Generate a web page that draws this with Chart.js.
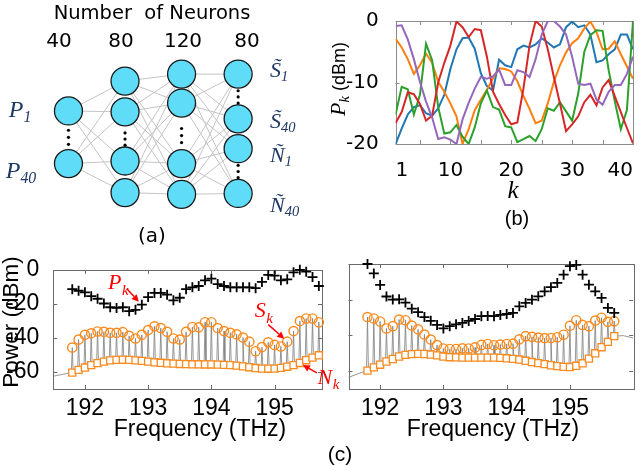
<!DOCTYPE html>
<html>
<head>
<meta charset="utf-8">
<script src="https://cdn.jsdelivr.net/npm/chart.js@4.4.0/dist/chart.umd.min.js"></script>
<style>
html, body { margin: 0; padding: 0; background: #fff; }
#page { position: relative; width: 640px; height: 466px; overflow: hidden; }
canvas { position: absolute; }
.lbl { position: absolute; white-space: nowrap; transform: translate(-50%, -50%); line-height: 1; color: #000; }
.left { transform: translate(0, -50%); }
.rot { transform: translate(-50%, -50%) rotate(-90deg); }
.sans { font-family: "DejaVu Sans", sans-serif; }
.ars { font-family: "Liberation Sans", Arial, sans-serif; }
.m { font-family: "Liberation Serif", serif; font-style: italic; }
.navy { color: #1f3864; }
sub { font-size: 66%; vertical-align: -0.3em; line-height: 0; }
</style>
</head>
<body>
<div id="page">
  <canvas id="net" width="310" height="250" style="left:0;top:0"></canvas>
  <canvas id="pk" width="330" height="240" style="left:310px;top:0"></canvas>
  <canvas id="specL" width="340" height="216" style="left:0;top:250px"></canvas>
  <canvas id="specR" width="300" height="216" style="left:340px;top:250px"></canvas>

  <!-- (a) -->
  <div class="lbl sans" style="left:152px;top:13px;font-size:19.5px">Number&nbsp; of Neurons</div>
  <div class="lbl sans" id="cnt0" style="left:59px;top:40px;font-size:20px"></div>
  <div class="lbl sans" id="cnt1" style="left:121px;top:40px;font-size:20px"></div>
  <div class="lbl sans" id="cnt2" style="left:183px;top:40px;font-size:20px"></div>
  <div class="lbl sans" id="cnt3" style="left:247px;top:40px;font-size:20px"></div>
  <div class="lbl m navy" style="left:20px;top:109px;font-size:24px">P<sub>1</sub></div>
  <div class="lbl m navy" style="left:21px;top:170px;font-size:24px">P<sub>40</sub></div>
  <div class="lbl left m navy" style="left:270px;top:70px;font-size:22px">S&#771;<sub>1</sub></div>
  <div class="lbl left m navy" style="left:270px;top:121px;font-size:22px">S&#771;<sub>40</sub></div>
  <div class="lbl left m navy" style="left:270px;top:155px;font-size:22px">Ñ<sub>1</sub></div>
  <div class="lbl left m navy" style="left:270px;top:205px;font-size:22px">Ñ<sub>40</sub></div>
  <div class="lbl sans" style="left:152px;top:235px;font-size:20px">(a)</div>

  <!-- (b) -->
  <div class="lbl rot ars" style="left:338px;top:79px;font-size:18px"><span class="m" style="font-size:22px">P<sub>k</sub></span>&nbsp;(dBm)</div>
  <div class="lbl m" style="left:513px;top:189px;font-size:25px">k</div>
  <div class="lbl ars" style="left:517px;top:218px;font-size:20px">(b)</div>

  <!-- (c) -->
  <div class="lbl rot ars" style="left:11px;top:322px;font-size:22.5px">Power (dBm)</div>
  <div class="lbl ars" style="left:200px;top:428px;font-size:23px">Frequency (THz)</div>
  <div class="lbl ars" style="left:493px;top:428px;font-size:23px">Frequency (THz)</div>
  <div class="lbl ars" style="left:340px;top:453px;font-size:21px">(c)</div>
</div>

<script>
// ---- (a) network layout ----
const neuronCounts = ['40', '80', '120', '80'];
const nodeRows = [[10.9, 16.9], [7.5, 11.0, 16.6, 20.2], [6.7, 10.0, 16.9, 20.4], [6.7, 11.8, 15.2, 20.3]];
const ellipsisRows = [[13.1, 13.9, 14.7], [13.4, 14.1, 14.8], [12.9, 13.7, 14.5], [8.6, 9.3, 10.0, 17.1, 17.8, 18.5]];

// ---- (b) P_k for five random launches ----
const kIndex = [1,2,3,4,5,6,7,8,9,10,11,12,13,14,15,16,17,18,19,20,21,22,23,24,25,26,27,28,29,30,31,32,33,34,35,36,37,38,39,40];
const kTicks = [1, 10, 20, 30, 40];
const kMarks = [5, 10, 15, 20, 25, 30, 35];
const pkTicks = [-20, -10, 0];
const launchBlue = [-20, -17.5, -15.2, -14, -13.7, -15, -15.4, -14.2, -12, -7.8, -4.6, -2.8, -2.7, -4.5, -8.5, -10.6, -11.3, -6.3, -7.2, -7.5, -4.6, -4, -4.3, -3.8, -2.8, -3.5, -4.3, -3.8, -1, -0.1, -1, -0.7, -2.2, -6.7, -6.4, -5.4, -4.6, -2.2, -2.2, -4.6];
const launchOrange = [-2.9, -4.3, -6.2, -8.6, -7.2, -5.3, -6.8, -9.9, -11.5, -13.4, -15.5, -20, -17.6, -14.5, -12.8, -11.2, -9.3, -7.7, -7.8, -8.2, -9.8, -12.2, -14.3, -16.6, -16.2, -13.4, -9.9, -7.2, -5.1, -3.6, -2.8, -1.2, -0.1, -1.8, -4.6, -4.5, -3.3, -5.4, -7.4, -9.4];
const launchGreen = [-15.2, -10.7, -11.1, -15.2, -12, -3.7, -6.4, -14, -18.3, -18.1, -16.9, -18.8, -20, -17.3, -13.4, -11.3, -14, -14.4, -17.1, -17.3, -19.7, -19.2, -18.7, -19.5, -17.6, -14.2, -14.6, -13.2, -14.7, -16.2, -11.8, -5, -2.3, -1.5, -1.6, -8, -13, -17.6, -14.5, 0];
const launchRed = [-16.6, -14.8, -11.6, -11.9, -13.5, -16.2, -15.4, -10, -6.8, -4, -0.1, -1, -2.6, -1.3, -1.5, -5.8, -11.5, -13.5, -15.3, -16.8, -16.5, -11, -4, 0, -0.9, -4.6, -9.1, -13.4, -17.9, -16.8, -15.5, -13.2, -12, -13.7, -10.8, -9.6, -12.2, -14.8, -17.4, -19.9];
const launchPurple = [-0.8, -0.7, -3, -6.2, -9.9, -13.1, -15.7, -19.2, -18.9, -19.3, -20, -16, -13.3, -11, -9.1, -9.4, -9, -7.9, -10.4, -10.4, -8, -8.3, -9.1, -6.2, -2.2, 0, 0, -0.9, -2.2, -5.8, -10.2, -10.4, -10.2, -12.8, -13.6, -11.5, -10.4, -10.4, -8.6, -5.8];

// ---- (c) spectra ----
const freqTHz = [191.8, 191.9, 192.0, 192.1, 192.2, 192.3, 192.4, 192.5, 192.6, 192.7, 192.8, 192.9, 193.0, 193.1, 193.2, 193.3, 193.4, 193.5, 193.6, 193.7, 193.8, 193.9, 194.0, 194.1, 194.2, 194.3, 194.4, 194.5, 194.6, 194.7, 194.8, 194.9, 195.0, 195.1, 195.2, 195.3, 195.4, 195.5, 195.6, 195.7];
const freqTicks = [192, 193, 194, 195];
const powerTicks = [-60, -40, -20, 0];
const pumpLeft = [-11.4, -12.3, -13.2, -15.5, -17, -19.8, -22, -22.4, -22, -24.3, -23.5, -20.5, -16, -13.6, -13.6, -14.6, -17.9, -16.4, -11.4, -10.3, -9.5, -6.2, -5.2, -8.4, -9.5, -10.3, -10.3, -10.3, -10.3, -10.8, -7.1, -3, -3.4, -6.2, -5.6, -1.5, 0, -1.1, -4.3, -9.5];
const signalLeft = [-45.7, -41, -38.2, -37.3, -36.2, -36.4, -37, -37, -36.6, -38.8, -40.3, -38.2, -35.4, -33.2, -34.2, -36.4, -40.3, -41, -36.4, -33.6, -33.8, -30.8, -30.8, -34.2, -36, -37, -37.9, -39.8, -42.2, -47.8, -45.4, -42.6, -44.1, -45, -42.2, -36, -30.1, -28.6, -28.6, -30.8];
const noiseLeft = [-60.4, -58.8, -57.4, -56, -54.8, -53.9, -53.2, -52.9, -52.8, -52.9, -53.2, -53.5, -53.9, -54.3, -54.6, -54.9, -55.1, -55.3, -55.4, -55.5, -55.5, -55.6, -55.6, -55.7, -55.8, -56, -56.3, -56.7, -57.2, -57.7, -58, -58.1, -58, -57.6, -56.9, -56, -54.7, -53.1, -51.6, -50.2];
const floorLeftStart = [[191.5, -62.5]];
const floorLeftEnd = [[195.75, -49]];
const pumpRight = [0, -5.3, -11.7, -18.2, -19.9, -19.8, -21.6, -25, -27, -29.7, -31.8, -34.1, -36.1, -34.8, -33.8, -33, -31.9, -30.8, -29.2, -29.1, -29.2, -28.5, -28, -27.4, -23.7, -21.8, -20, -18.1, -15.3, -13, -10.6, -6, -1.2, -0.5, -6, -11.6, -15.3, -19, -24.6, -27.4];
const signalRight = [-29.7, -30.5, -32.2, -36.1, -34.8, -31.1, -31.5, -34.5, -36.6, -39.5, -42.3, -45.4, -47.3, -47.6, -47.6, -47.2, -47.3, -46.7, -45.3, -44.8, -45.5, -45.1, -44.8, -44.6, -42.2, -40.4, -40.8, -41.2, -41.5, -41.4, -41, -39.6, -34.6, -31.5, -34.1, -34.8, -31.7, -30.1, -32.4, -32];
const noiseRight = [-59.7, -57.9, -56.4, -54.6, -53.2, -51.8, -50.9, -50.5, -50.3, -50.4, -50.7, -51.2, -51.8, -52.2, -52.3, -52.4, -52.4, -52.4, -52.4, -52.4, -52.4, -52.6, -52.8, -53.1, -53.5, -54.2, -54.9, -55.5, -56.1, -56.7, -57.2, -57.6, -57.7, -57, -55.6, -53, -50, -46.6, -43.6, -40.4];
const floorRightStart = [[191.5, -63.5]];
const floorRightEnd = [[195.84, -40.1], [196, -41.4]];

const ORANGE = '#f98a1e';

neuronCounts.forEach((n, i) => { document.getElementById('cnt' + i).textContent = n; });

// box with inward ticks, MATLAB style
const framePlugin = {
  id: 'frame',
  beforeDatasetsDraw(chart, args, opts) {
    const { ctx, chartArea: a, scales: { x, y } } = chart;
    ctx.save();
    ctx.strokeStyle = opts.color;
    ctx.lineWidth = 1;
    ctx.strokeRect(Math.round(a.left) + 0.5, Math.round(a.top) + 0.5, Math.round(a.width), Math.round(a.height));
    ctx.beginPath();
    opts.xMarks.forEach(v => {
      const px = Math.round(x.getPixelForValue(v)) + 0.5;
      ctx.moveTo(px, a.bottom); ctx.lineTo(px, a.bottom - opts.len);
      ctx.moveTo(px, a.top); ctx.lineTo(px, a.top + opts.len);
    });
    opts.yMarks.forEach(v => {
      const py = Math.round(y.getPixelForValue(v)) + 0.5;
      ctx.moveTo(a.left, py); ctx.lineTo(a.left + opts.len, py);
      ctx.moveTo(a.right, py); ctx.lineTo(a.right - opts.len, py);
    });
    ctx.stroke();
    ctx.restore();
  }
};

// red arrows with P_k, S_k, N_k
const calloutPlugin = {
  id: 'callouts',
  afterDatasetsDraw(chart, args, opts) {
    if (!opts.items) return;
    const ctx = chart.ctx;
    ctx.save();
    ctx.strokeStyle = opts.color;
    ctx.fillStyle = opts.color;
    ctx.lineWidth = 1.5;
    opts.items.forEach(c => {
      const pt = chart.getDatasetMeta(c.dataset).data[c.index];
      const tx = pt.x + c.tip[0], ty = pt.y + c.tip[1];
      const sx = pt.x + c.tail[0], sy = pt.y + c.tail[1];
      const ang = Math.atan2(ty - sy, tx - sx);
      const hl = 7, hw = 3.5;
      const bx = tx - hl * Math.cos(ang), by = ty - hl * Math.sin(ang);
      ctx.beginPath(); ctx.moveTo(sx, sy); ctx.lineTo(bx, by); ctx.stroke();
      ctx.beginPath();
      ctx.moveTo(tx, ty);
      ctx.lineTo(bx + hw * Math.sin(ang), by - hw * Math.cos(ang));
      ctx.lineTo(bx - hw * Math.sin(ang), by + hw * Math.cos(ang));
      ctx.closePath(); ctx.fill();
      const lx = pt.x + c.text[0], ly = pt.y + c.text[1];
      ctx.font = opts.font;
      ctx.textAlign = 'center'; ctx.textBaseline = 'middle';
      ctx.fillText(c.label, lx, ly);
      const w = ctx.measureText(c.label).width;
      ctx.font = opts.subFont;
      ctx.textAlign = 'left';
      ctx.fillText(c.sub, lx + w / 2 + 0.5, ly + 7);
    });
    ctx.restore();
  }
};

const quiet = { legend: { display: false }, tooltip: { enabled: false } };
const plainLabel = v => String(v);

// ---------- (a) ----------
const netSets = [];
for (let l = 0; l < nodeRows.length - 1; l++) {
  nodeRows[l].forEach(a => nodeRows[l + 1].forEach(b => {
    netSets.push({ type: 'line', data: [{ x: l, y: a }, { x: l + 1, y: b }], borderColor: '#c4c4c4', borderWidth: 1, pointRadius: 0, order: 3 });
  }));
}
netSets.push({
  type: 'scatter',
  data: nodeRows.flatMap((rows, l) => rows.map(r => ({ x: l, y: r }))),
  pointRadius: 14, backgroundColor: '#5edcf8', borderColor: '#1a1a1a', borderWidth: 1.3, order: 1
});
netSets.push({
  type: 'scatter',
  data: ellipsisRows.flatMap((rows, l) => rows.map(r => ({ x: l, y: r }))),
  pointRadius: 1.6, backgroundColor: '#000', borderWidth: 0, order: 0
});
new Chart(document.getElementById('net'), {
  type: 'scatter',
  data: { datasets: netSets },
  options: {
    responsive: false, animation: false, events: [],
    layout: { padding: 0 },
    plugins: quiet,
    scales: {
      x: { type: 'linear', display: false, min: -0.94, max: 4.0 },
      y: { type: 'linear', display: false, min: 0, max: 25, reverse: true }
    }
  }
});

// ---------- (b) ----------
const launches = [
  { values: launchBlue, color: '#1f77b4', order: 5 },
  { values: launchOrange, color: '#ff7f0e', order: 4 },
  { values: launchGreen, color: '#2ca02c', order: 3 },
  { values: launchRed, color: '#d62728', order: 2 },
  { values: launchPurple, color: '#9467bd', order: 1 }
];
new Chart(document.getElementById('pk'), {
  type: 'line',
  data: {
    datasets: launches.map(s => ({
      data: kIndex.map((k, i) => ({ x: k, y: s.values[i] })),
      borderColor: s.color, borderWidth: 2, pointRadius: 0, tension: 0, order: s.order
    }))
  },
  options: {
    responsive: false, animation: false, events: [],
    layout: { padding: { left: 0, right: 4.5, top: 18.7, bottom: 56 } },
    plugins: Object.assign({ frame: { color: '#8c8c8c', len: 4, xMarks: kMarks, yMarks: pkTicks } }, quiet),
    scales: {
      x: {
        type: 'linear', min: 1, max: 40,
        grid: { display: false }, border: { display: false },
        afterBuildTicks: s => { s.ticks = kTicks.map(v => ({ value: v })); },
        afterFit: s => { s.height = 40; },
        ticks: { align: 'inner', padding: 7, maxRotation: 0, autoSkip: false, callback: plainLabel, color: '#000', font: { family: 'DejaVu Sans', size: 20 } }
      },
      y: {
        type: 'linear', min: -20, max: 0,
        grid: { display: false }, border: { display: false },
        afterBuildTicks: s => { s.ticks = pkTicks.map(v => ({ value: v })); },
        afterFit: s => { s.width = 85.6; },
        ticks: { padding: 9, callback: plainLabel, color: '#000', font: { family: 'DejaVu Sans', size: 20 } }
      }
    }
  },
  plugins: [framePlugin]
});

// ---------- (c) ----------
function spectrumChart(id, pump, signal, noise, floorStart, floorEnd, xMax, yLabels, yWidth, padRight, callouts) {
  const spectrum = floorStart.map(p => ({ x: p[0], y: p[1] }));
  freqTHz.forEach((f, i) => {
    spectrum.push({ x: f - 0.015, y: noise[i] }, { x: f, y: signal[i] }, { x: f + 0.015, y: noise[i] });
  });
  floorEnd.forEach(p => spectrum.push({ x: p[0], y: p[1] }));
  const pts = arr => freqTHz.map((f, i) => ({ x: f, y: arr[i] }));
  return new Chart(document.getElementById(id), {
    type: 'line',
    data: {
      datasets: [
        { data: pts(pump), showLine: false, pointStyle: 'cross', pointRadius: 5, pointBorderWidth: 1.8, borderColor: '#000', clip: false },
        { data: pts(signal), showLine: false, pointStyle: 'circle', pointRadius: 4.6, pointBorderWidth: 1.4, borderColor: ORANGE, backgroundColor: 'rgba(0,0,0,0)', clip: false },
        { data: pts(noise), showLine: true, borderColor: ORANGE, borderWidth: 1.6, pointStyle: 'rect', pointRadius: 5, pointBorderWidth: 1.3, pointBackgroundColor: '#fff', tension: 0, clip: false },
        { data: spectrum, borderColor: '#7d7d7d', borderWidth: 0.8, pointRadius: 0, tension: 0 }
      ]
    },
    options: {
      responsive: false, animation: false, events: [],
      layout: { padding: { left: 0, right: padRight, top: 14, bottom: 37 } },
      plugins: Object.assign({
        frame: { color: '#6a6a6a', len: 4, xMarks: freqTicks, yMarks: powerTicks },
        callouts: { color: '#ff0000', font: 'italic 22px "Liberation Serif"', subFont: 'italic 15px "Liberation Serif"', items: callouts }
      }, quiet),
      scales: {
        x: {
          type: 'linear', min: 191.5, max: xMax,
          grid: { display: false }, border: { display: false },
          afterBuildTicks: s => { s.ticks = freqTicks.map(v => ({ value: v })); },
          afterFit: s => { s.height = 40; },
          ticks: { padding: -2, maxRotation: 0, autoSkip: false, callback: plainLabel, color: '#000', font: { family: 'Liberation Sans', size: 23 } }
        },
        y: {
          type: 'linear', min: -70, max: 0,
          grid: { display: false }, border: { display: false },
          afterBuildTicks: s => { s.ticks = powerTicks.map(v => ({ value: v })); },
          afterFit: s => { s.width = yWidth; },
          ticks: { display: yLabels, padding: 6, callback: plainLabel, color: '#000', font: { family: 'Liberation Sans', size: 23 } }
        }
      }
    },
    plugins: [framePlugin, calloutPlugin]
  });
}

spectrumChart('specL', pumpLeft, signalLeft, noiseLeft, floorLeftStart, floorLeftEnd, 195.75, true, 53.3, 18, [
  { dataset: 0, index: 11, label: 'P', sub: 'k', tip: [-3, -3], tail: [-15, -16], text: [-27, -21] },
  { dataset: 1, index: 34, label: 'S', sub: 'k', tip: [-3, -3], tail: [-19, -17], text: [-27, -30] },
  { dataset: 2, index: 36, label: 'N', sub: 'k', tip: [3, 2], tail: [17, 10], text: [25, 15] }
]);
spectrumChart('specR', pumpRight, signalRight, noiseRight, floorRightStart, floorRightEnd, 196, false, 8.5, 6, []);
</script>
</body>
</html>
